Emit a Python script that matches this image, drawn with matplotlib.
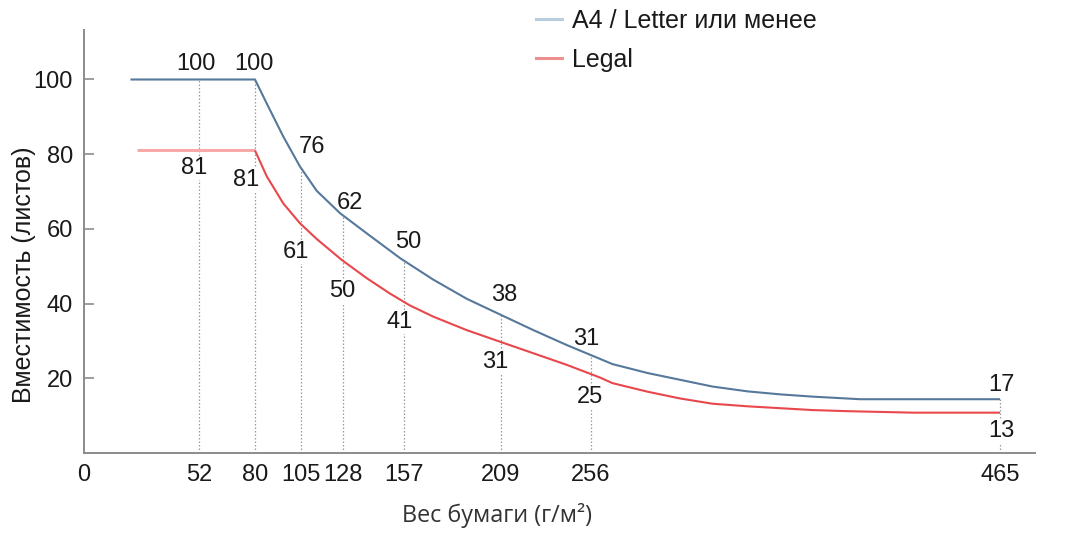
import numpy as np
import matplotlib
matplotlib.use("Agg")
import matplotlib.pyplot as plt
from matplotlib.lines import Line2D

# ---- data ----
x_ticks = [0, 52, 80, 105, 128, 157, 209, 256, 465]
y_ticks = [20, 40, 60, 80, 100]

# curves (paper weight g/m2, capacity in sheets)
a4_x = [21, 80, 86.4, 95.5, 104.6, 113.7, 126.4, 139.3, 150.3, 155.3, 172.8, 190.7, 208.6,
        226.0, 243.4, 260.6, 267, 285, 301.5, 318, 336, 352.6, 369, 393.5, 465]
a4_y = [100, 100, 93.6, 84.7, 76.7, 70.2, 64.2, 58.8, 54.2, 52.1, 46.4, 41.3, 37.1,
        32.9, 28.9, 25.2, 23.8, 21.4, 19.6, 17.8, 16.5, 15.7, 15.1, 14.4, 14.4]
legal_flat_x = [24, 80]
legal_flat_y = [81, 81]
legal_x = [80, 86.4, 95.5, 104.6, 113.7, 127.3, 139.3, 150.3, 160.2, 172.8, 190.7, 208.6,
           226.0, 243.4, 260.6, 267, 285, 301.5, 318, 336, 352.6, 369, 387, 420.5, 465]
legal_y = [81, 74.1, 66.8, 61.5, 57.3, 51.7, 46.8, 42.7, 39.5, 36.5, 32.9, 29.8,
           26.7, 23.6, 20.2, 18.7, 16.4, 14.6, 13.2, 12.5, 12.0, 11.5, 11.2, 10.8, 10.8]

# annotated values
label_x = [52, 80, 105, 128, 157, 209, 256, 465]
a4_labels = [100, 100, 76, 62, 50, 38, 31, 17]
legal_labels = [81, 81, 61, 50, 41, 31, 25, 13]

series_names = ["A4 / Letter или менее", "Legal"]

# ---- layout / style ----
W, H = 1065, 533
fig = plt.figure(figsize=(W / 100, H / 100), dpi=100)
ax_l, ax_r, ax_b, ax_t = 84, 1035, 453, 30
ax = fig.add_axes([ax_l / W, (H - ax_b) / H, (ax_r - ax_l) / W, (ax_b - ax_t) / H])

# slightly non-uniform horizontal scale of the original drawing
anchor_v = np.array([0, 52, 80, 105, 128, 157, 209, 256, 465, 500], float)
anchor_p = np.array([0, 115, 171, 216.7, 259, 320, 416.7, 507, 916, 984.5], float)
def fwd(v):
    return np.interp(v, anchor_v, anchor_p)
def inv(p):
    return np.interp(p, anchor_p, anchor_v)
ax.set_xscale("function", functions=(fwd, inv))
ax.set_xlim(0, inv(ax_r - ax_l))
ax.set_ylim(0, (ax_b - ax_t) / (74.7 / 20))

font = "Liberation Sans"
blue = "#56789a"
red = "#e8474c"
pink = "#f7a9aa"
txt = "#1a1a1a"

# dotted guides up to the A4 curve
guide_top = np.interp(label_x, a4_x, a4_y)
guide_top[0] = 100
ax.vlines(label_x, 0, guide_top, colors="#9a9a9a", linestyles=(0, (1.2, 1.6)), lw=0.9, zorder=1)

ax.plot(a4_x, a4_y, color=blue, lw=1.5, zorder=3, solid_capstyle="butt", solid_joinstyle="round")
ax.plot(legal_flat_x, legal_flat_y, color=pink, lw=2.2, zorder=3, solid_capstyle="butt")
ax.plot(legal_x, legal_y, color=red, lw=1.5, zorder=3, solid_capstyle="butt", solid_joinstyle="round")

a4_off = [(-3, 15.5), (-1, 15.5), (11.8, 20.1), (7, 13.1), (4, 18.9), (3.3, 19.3), (-4.5, 16.5), (1.5, 13.8)]
legal_off = [(-5, -17.5), (-8.5, -29.5), (-5.2, -28), (-1, -30), (-4.5, -20.5), (-5.2, -20), (-1, -22.8), (1.5, -18.7)]
a4_at = np.interp(label_x, a4_x, a4_y)
legal_at = np.interp(label_x, legal_flat_x + legal_x[1:], legal_flat_y + legal_y[1:])
for xs, ys, labs, offs in ((label_x, a4_at, a4_labels, a4_off), (label_x, legal_at, legal_labels, legal_off)):
    for xv, yv, lab, off in zip(xs, ys, labs, offs):
        ax.annotate(str(lab), (xv, yv), xytext=off, textcoords="offset pixels",
                    ha="center", va="center", fontsize=17, family=font, color=txt, zorder=2,
                    bbox=dict(boxstyle="square,pad=0.04", fc="white", ec="none"))

for s in ["top", "right"]:
    ax.spines[s].set_visible(False)
for s in ["left", "bottom"]:
    ax.spines[s].set_color("#8c8c8c")
    ax.spines[s].set_linewidth(1.4)

ax.set_xticks(x_ticks)
ax.set_xticklabels([str(v) for v in x_ticks], family=font, fontsize=17, color=txt)
ax.set_yticks(y_ticks)
ax.set_yticklabels([str(v) for v in y_ticks], family=font, fontsize=17, color=txt)
ax.tick_params(axis="x", length=0, pad=8)
ax.tick_params(axis="y", direction="in", length=7, width=1.2, color="#8c8c8c", pad=8)

ax.set_xlabel("Вес бумаги (г/м²)", family="Open Sans", fontsize=16.8, color="#333333")
ax.xaxis.set_label_coords((497 - ax_l) / (ax_r - ax_l), -(503 - ax_b) / (ax_b - ax_t))
ax.set_ylabel("Вместимость (листов)", family=font, fontsize=18, color=txt)
ax.yaxis.set_label_coords(-(84 - 36) / (ax_r - ax_l), (ax_b - 275) / (ax_b - ax_t))

handles = [Line2D([], [], color="#b7cde0", lw=2.2), Line2D([], [], color="#ec8f90", lw=2.2)]
leg = fig.legend(handles, series_names, loc="upper left", bbox_to_anchor=(536 / W, 1 - 9 / H),
                 frameon=False, prop={"family": font, "size": 18}, handlelength=1.05,
                 handletextpad=0.38, labelspacing=0.6, borderaxespad=0, borderpad=0.0)
for t in leg.get_texts():
    t.set_color(txt)

fig.savefig("out.png", dpi=100)
